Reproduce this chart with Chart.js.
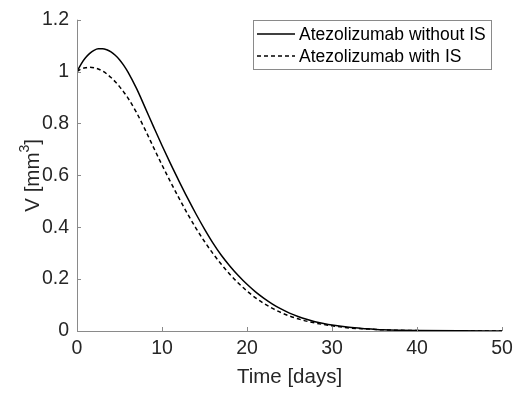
<!DOCTYPE html>
<html>
<head>
<meta charset="utf-8">
<script src="https://cdn.jsdelivr.net/npm/chart.js@4.4.1/dist/chart.umd.min.js"></script>
<style>
html,body{margin:0;padding:0;background:#fff;}
#wrap{width:519px;height:396px;}
</style>
</head>
<body>
<div id="wrap"><canvas id="c" width="519" height="396"></canvas></div>
<script>
const timeDays = [0,0.5,1,1.5,2,2.5,3,3.5,4,4.5,5,5.5,6,7,8,9,10,11,12,13,14,15,16,17,18,19,20,21,22,23,24,25,26,27,28,29,30,32,34,36,38,40,45,50];
const withoutIS = [1.000,1.030,1.053,1.070,1.082,1.088,1.088,1.084,1.076,1.063,1.046,1.024,0.998,0.935,0.862,0.788,0.715,0.645,0.578,0.513,0.451,0.393,0.339,0.291,0.250,0.213,0.180,0.151,0.126,0.104,0.085,0.069,0.056,0.045,0.036,0.029,0.023,0.014,0.009,0.005,0.003,0.0018,0.0006,0.0002];
const withIS = [1.000,1.010,1.015,1.017,1.015,1.010,1.002,0.991,0.977,0.961,0.942,0.921,0.898,0.842,0.777,0.708,0.640,0.575,0.512,0.452,0.396,0.345,0.298,0.256,0.218,0.184,0.154,0.128,0.106,0.087,0.071,0.058,0.047,0.038,0.031,0.025,0.020,0.012,0.008,0.0045,0.0027,0.0016,0.0005,0.0002];
const seriesLabels = ['Atezolizumab without IS','Atezolizumab with IS'];
const xTicks = [0,10,20,30,40,50];
const yTicks = [0,0.2,0.4,0.6,0.8,1,1.2];
const xTitle = 'Time [days]';
const yTitleParts = ['V [mm','3',']'];

const FONT = "'Liberation Sans', Arial, Helvetica, sans-serif";
const AXIS = '#8a8a8a';
const TXT = '#262626';

const pts = (ys) => timeDays.map((t,i)=>({x:t,y:ys[i]}));

const tickPlugin = {
  id:'inTicks',
  afterDraw(chart){
    const ctx = chart.ctx, xs = chart.scales.x, ys = chart.scales.y, a = chart.chartArea;
    ctx.save();
    ctx.strokeStyle = AXIS; ctx.lineWidth = 1;
    ctx.beginPath();
    ctx.moveTo(a.left+0.5, a.top); ctx.lineTo(a.left+0.5, a.bottom+0.5); ctx.lineTo(a.right, a.bottom+0.5);
    xTicks.forEach(v=>{ const p = Math.round(xs.getPixelForValue(v))+0.5; ctx.moveTo(p,a.bottom); ctx.lineTo(p,a.bottom-4); });
    yTicks.forEach(v=>{ const p = Math.round(ys.getPixelForValue(v))+0.5; ctx.moveTo(a.left,p); ctx.lineTo(a.left+4,p); });
    ctx.stroke();
    // y title with superscript
    ctx.save();
    ctx.translate(32, (a.top+a.bottom)/2);
    ctx.rotate(-Math.PI/2);
    ctx.fillStyle = TXT; ctx.textBaseline='alphabetic'; ctx.textAlign='left';
    const big = "20.5px " + FONT, small = "14px " + FONT;
    ctx.font = big; const w0 = ctx.measureText(yTitleParts[0]).width, w2 = ctx.measureText(yTitleParts[2]).width;
    ctx.font = small; const w1 = ctx.measureText(yTitleParts[1]).width;
    let x = -(w0+w1+w2)/2; const base = 7;
    ctx.font = big; ctx.fillText(yTitleParts[0], x, base); x += w0;
    ctx.font = small; ctx.fillText(yTitleParts[1], x, base-10); x += w1;
    ctx.font = big; ctx.fillText(yTitleParts[2], x, base);
    ctx.restore();
    // legend
    const lx = 253.5, ly = 20.5, lw = 238, lh = 49;
    ctx.fillStyle='#fff'; ctx.fillRect(lx,ly,lw,lh);
    ctx.strokeStyle = AXIS; ctx.strokeRect(lx,ly,lw,lh);
    ctx.font = "17.5px " + FONT; ctx.textBaseline='middle'; ctx.textAlign='left';
    chart.data.datasets.forEach((ds,i)=>{
      const y = 34 + i*22;
      ctx.strokeStyle = '#000'; ctx.lineWidth = 1.3;
      ctx.setLineDash(ds.borderDash||[]);
      ctx.beginPath(); ctx.moveTo(257,y); ctx.lineTo(295,y); ctx.stroke();
      ctx.setLineDash([]);
      ctx.fillStyle = '#000';
      ctx.fillText(ds.label, 299, y+1);
    });
    ctx.restore();
  }
};

new Chart(document.getElementById('c'), {
  type:'line',
  data:{datasets:[
    {label:seriesLabels[0], data:pts(withoutIS), borderColor:'#000', borderWidth:1.5, pointRadius:0, cubicInterpolationMode:'monotone', fill:false},
    {label:seriesLabels[1], data:pts(withIS), borderColor:'#000', borderWidth:1.5, borderDash:[4,3], pointRadius:0, cubicInterpolationMode:'monotone', fill:false}
  ]},
  options:{
    responsive:false, animation:false, devicePixelRatio:1,
    layout:{padding:{top:10,right:17,left:0,bottom:0}},
    plugins:{legend:{display:false}, tooltip:{enabled:false}},
    scales:{
      x:{type:'linear', min:0, max:50,
        afterBuildTicks(s){ s.ticks = xTicks.map(v=>({value:v})); },
        afterFit(s){ s.height = 65; },
        grid:{display:false, drawTicks:false}, border:{display:false},
        ticks:{padding:6, color:TXT, font:{family:FONT,size:19.5}, maxRotation:0},
        title:{display:true, text:xTitle, color:TXT, font:{family:FONT,size:20.5}, padding:{top:0,bottom:6}}
      },
      y:{type:'linear', min:0, max:1.2,
        afterBuildTicks(s){ s.ticks = yTicks.map(v=>({value:v})); },
        afterFit(s){ s.width = 77; },
        grid:{display:false, drawTicks:false}, border:{display:false},
        ticks:{padding:8, color:TXT, font:{family:FONT,size:19.5}, callback:(v)=>String(v)},
        title:{display:false}
      }
    }
  },
  plugins:[tickPlugin]
});
</script>
</body>
</html>
